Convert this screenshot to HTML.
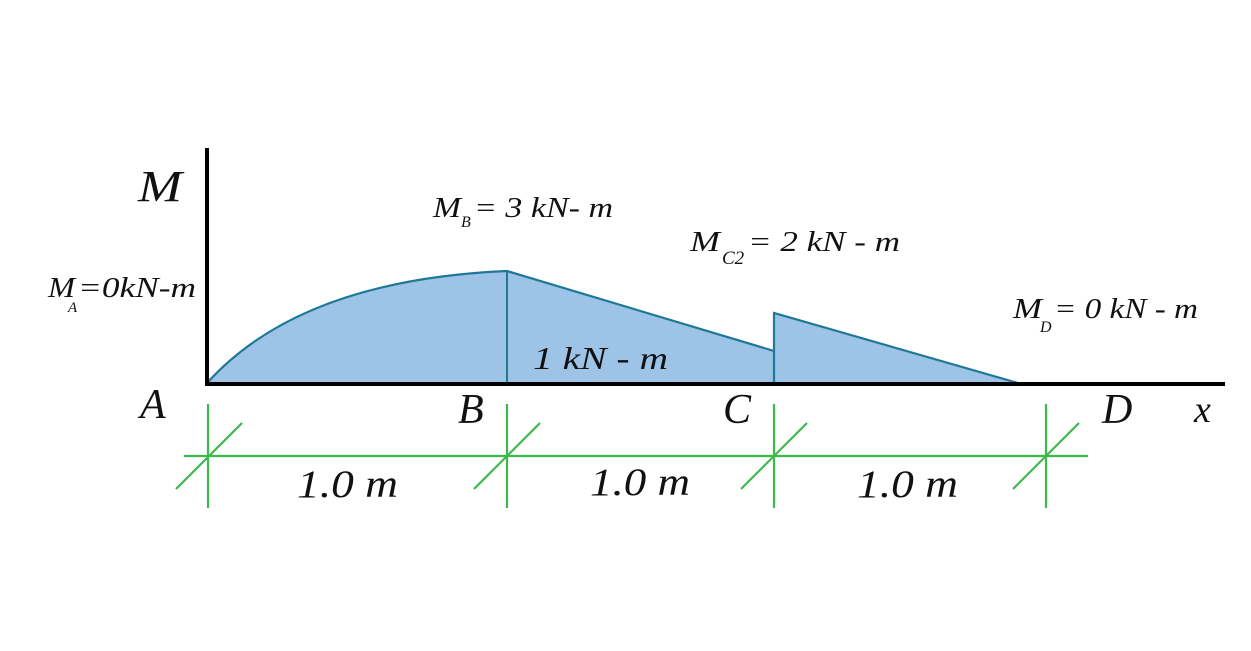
<!DOCTYPE html>
<html><head><meta charset="utf-8"><style>
html,body{margin:0;padding:0;background:#fff;}
svg{display:block}
text{font-family:"Liberation Serif",serif;font-style:italic;fill:#111;}
</style></head><body>
<svg width="1251" height="651" viewBox="0 0 1251 651" xmlns="http://www.w3.org/2000/svg">
<rect width="1251" height="651" fill="#fff"/>
<path d="M207,383 Q300,280 507,271 L507,383 Z" fill="#9dc3e6" stroke="none"/>
<path d="M507,271 L774,351 L774,383 L507,383 Z" fill="#9dc3e6"/>
<path d="M774,313 L1018,383 L774,383 Z" fill="#9dc3e6"/>
<path d="M207,383 Q300,280 507,271 L774,351" fill="none" stroke="#1f7898" stroke-width="2.2"/>
<path d="M774,383 L774,313 L1018,383" fill="none" stroke="#1f7898" stroke-width="2.2"/>
<line x1="507" y1="271" x2="507" y2="383" stroke="#1f7898" stroke-width="2"/>
<line x1="207" y1="148" x2="207" y2="386" stroke="#000" stroke-width="4"/>
<line x1="205" y1="384" x2="1225" y2="384" stroke="#000" stroke-width="4"/>
<g stroke="#3cb94a" stroke-width="2.2">
<line x1="184" y1="456" x2="1088" y2="456"/>
<line x1="208" y1="404" x2="208" y2="508"/>
<line x1="507" y1="404" x2="507" y2="508"/>
<line x1="774" y1="404" x2="774" y2="508"/>
<line x1="1046" y1="404" x2="1046" y2="508"/>
<line x1="176" y1="489" x2="242" y2="423"/>
<line x1="474" y1="489" x2="540" y2="423"/>
<line x1="741" y1="489" x2="807" y2="423"/>
<line x1="1013" y1="489" x2="1079" y2="423"/>
</g>
<text x="138" y="201" font-size="44" textLength="44" lengthAdjust="spacingAndGlyphs">M</text>
<text x="140" y="418" font-size="42">A</text>
<text x="458" y="423" font-size="42">B</text>
<text x="723" y="423" font-size="42">C</text>
<text x="1102" y="423" font-size="42">D</text>
<text x="1194" y="422" font-size="38">x</text>
<text x="48" y="297" font-size="29" textLength="27" lengthAdjust="spacingAndGlyphs">M</text><text x="68" y="312" font-size="15">A</text><text x="78" y="297" font-size="29" textLength="118" lengthAdjust="spacingAndGlyphs">=0kN-m</text>
<text x="433" y="217" font-size="29" textLength="28" lengthAdjust="spacingAndGlyphs">M</text><text x="461" y="227" font-size="16">B</text><text x="474" y="217" font-size="29" textLength="139" lengthAdjust="spacingAndGlyphs">= 3 kN- m</text>
<text x="690" y="251" font-size="29" textLength="30" lengthAdjust="spacingAndGlyphs">M</text><text x="722" y="264" font-size="19">C2</text><text x="748" y="251" font-size="29" textLength="152" lengthAdjust="spacingAndGlyphs">= 2 kN - m</text>
<text x="1013" y="318" font-size="29" textLength="29" lengthAdjust="spacingAndGlyphs">M</text><text x="1040" y="332" font-size="16">D</text><text x="1054" y="318" font-size="29" textLength="144" lengthAdjust="spacingAndGlyphs">= 0 kN - m</text>
<text x="533" y="369" font-size="32" textLength="135" lengthAdjust="spacingAndGlyphs">1 kN - m</text>
<text x="297" y="497" font-size="39" textLength="101" lengthAdjust="spacingAndGlyphs">1.0 m</text>
<text x="590" y="495" font-size="39" textLength="100" lengthAdjust="spacingAndGlyphs">1.0 m</text>
<text x="857" y="497" font-size="39" textLength="101" lengthAdjust="spacingAndGlyphs">1.0 m</text>
</svg>
</body></html>
